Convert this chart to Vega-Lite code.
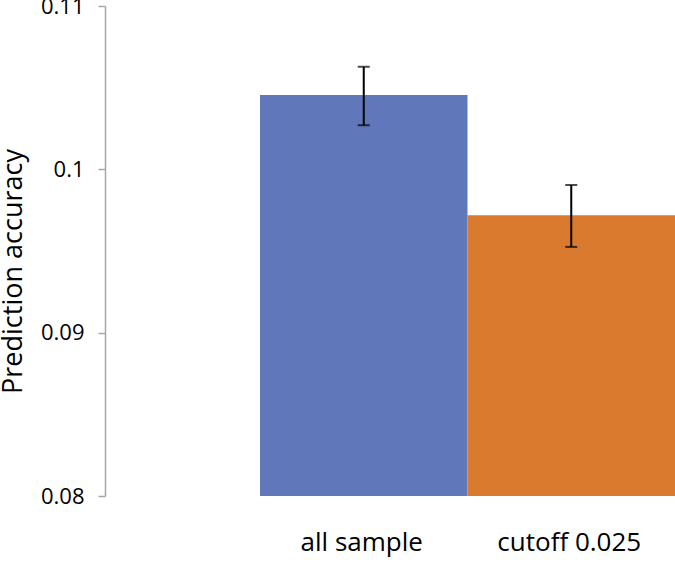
{
  "$schema": "https://vega.github.io/schema/vega-lite/v6.json",
  "width": 570,
  "height": 490,
  "autosize": {"type": "none"},
  "padding": {"left": 105, "top": 6, "right": 0, "bottom": 66},
  "background": "white",
  "config": {"view": {"stroke": null}, "font": "Open Sans"},
  "data": {
    "values": [
      {"group": "all sample", "accuracy": 0.10455, "lo": 0.1027, "hi": 0.10628},
      {"group": "cutoff 0.025", "accuracy": 0.09719, "lo": 0.09525, "hi": 0.09904}
    ]
  },
  "encoding": {
    "x": {
      "field": "group",
      "type": "nominal",
      "sort": null,
      "scale": {"paddingInner": 0, "paddingOuter": 0.3735, "align": 1},
      "axis": {
        "title": null,
        "domain": false,
        "ticks": false,
        "labelAngle": 0,
        "labelFontSize": 26,
        "labelColor": "#000000",
        "labelPadding": 33,
        "labelOffset": -2,
        "labelFont": "Open Sans"
      }
    }
  },
  "layer": [
    {
      "mark": {"type": "bar", "clip": true},
      "encoding": {
        "y": {
          "field": "accuracy",
          "type": "quantitative",
          "scale": {"domain": [0.08, 0.11], "zero": false, "nice": false},
          "axis": {
            "title": "Prediction accuracy",
            "titleFontSize": 27,
            "titleFontWeight": "normal",
            "titleColor": "#000000",
            "titleFont": "Open Sans",
            "titleX": -92,
            "titleY": 265,
            "titleAngle": -90,
            "titleAlign": "center",
            "titleBaseline": "middle",
            "values": [0.08, 0.09, 0.1, 0.11],
            "format": "~g",
            "grid": false,
            "domainColor": "#A6A6A6",
            "domainWidth": 1.5,
            "tickColor": "#A6A6A6",
            "tickWidth": 1.5,
            "tickSize": 7,
            "labelFontSize": 22,
            "labelColor": "#000000",
            "labelPadding": 14,
            "labelFont": "Open Sans"
          }
        },
        "y2": {"datum": 0.08},
        "color": {
          "field": "group",
          "type": "nominal",
          "scale": {"domain": ["all sample", "cutoff 0.025"], "range": ["#6078B9", "#DA7A2F"]},
          "legend": null
        }
      }
    },
    {
      "mark": {"type": "rule", "color": "#000000", "strokeWidth": 2},
      "encoding": {
        "y": {"field": "lo", "type": "quantitative"},
        "y2": {"field": "hi"}
      }
    },
    {
      "mark": {"type": "tick", "color": "#000000", "thickness": 2, "size": 12},
      "encoding": {
        "y": {"field": "lo", "type": "quantitative"}
      }
    },
    {
      "mark": {"type": "tick", "color": "#000000", "thickness": 2, "size": 12},
      "encoding": {
        "y": {"field": "hi", "type": "quantitative"}
      }
    }
  ]
}
